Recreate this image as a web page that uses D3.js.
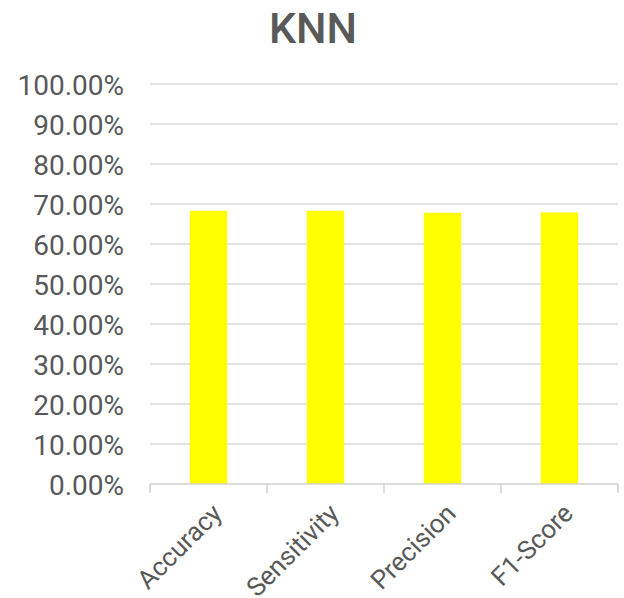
<!DOCTYPE html>
<html><head><meta charset="utf-8">
<script src="https://cdn.jsdelivr.net/npm/d3@7"></script>
<style>body{margin:0;background:#fff;} svg{display:block;font-family:Roboto,"Liberation Sans",Arial,sans-serif;}</style>
</head><body>
<svg id="c" width="624" height="598"></svg>
<script>
const title = "KNN";
const categories = ["Accuracy", "Sensitivity", "Precision", "F1-Score"];
const values = [0.683, 0.683, 0.678, 0.679];
const yTicks = [0, 0.1, 0.2, 0.3, 0.4, 0.5, 0.6, 0.7, 0.8, 0.9, 1.0];

const svg = d3.select("#c");
const x = d3.scaleBand().domain(categories).range([150, 618]).paddingInner(0.68).paddingOuter(0.34);
const y = d3.scaleLinear().domain([0, 1]).range([484, 84]);
const textColor = "#595959";
const ff = "Roboto,'Liberation Sans',Arial,sans-serif";

svg.append("text").attr("x", 313).attr("y", 43).attr("text-anchor", "middle")
  .attr("font-size", 43).attr("font-weight", 500).attr("fill", textColor).text(title);

// gridlines
svg.append("g").selectAll("line").data(yTicks.filter(d => d > 0)).join("line")
  .attr("x1", 150).attr("x2", 618).attr("y1", d => y(d)).attr("y2", d => y(d))
  .attr("stroke", "#d9d9d9").attr("stroke-width", 1.5);

// y axis labels
const yAxis = d3.axisLeft(y).tickValues(yTicks).tickFormat(d3.format(".2%")).tickSize(0).tickPadding(0);
const gy = svg.append("g").attr("transform", "translate(124,0)").call(yAxis);
gy.select(".domain").remove();
gy.selectAll("text").attr("font-size", 28).attr("font-weight", 400).attr("fill", textColor).attr("font-family", ff).attr("dy", "0.36em");

// bars
svg.append("g").selectAll("rect").data(values).join("rect")
  .attr("x", (d, i) => x(categories[i])).attr("width", x.bandwidth())
  .attr("y", d => y(d)).attr("height", d => y(0) - y(d))
  .attr("fill", "#ffff00");

// x axis
const xAxisG = svg.append("g").attr("transform", `translate(0,${y(0)})`);
xAxisG.append("line").attr("x1", 150).attr("x2", 618).attr("stroke", "#d0d0d0").attr("stroke-width", 1.5);
xAxisG.selectAll("line.tk").data(d3.range(categories.length + 1)).join("line").attr("class", "tk")
  .attr("x1", i => 150 + i * x.step()).attr("x2", i => 150 + i * x.step())
  .attr("y1", 0).attr("y2", 9).attr("stroke", "#d0d0d0").attr("stroke-width", 1.5);
xAxisG.selectAll("text").data(categories).join("text")
  .attr("transform", d => `translate(${x(d) + x.bandwidth() / 2 + 15},${31}) rotate(-45)`)
  .attr("text-anchor", "end").attr("font-size", 26).attr("font-weight", 400).attr("fill", textColor).text(d => d);
</script>
</body></html>
